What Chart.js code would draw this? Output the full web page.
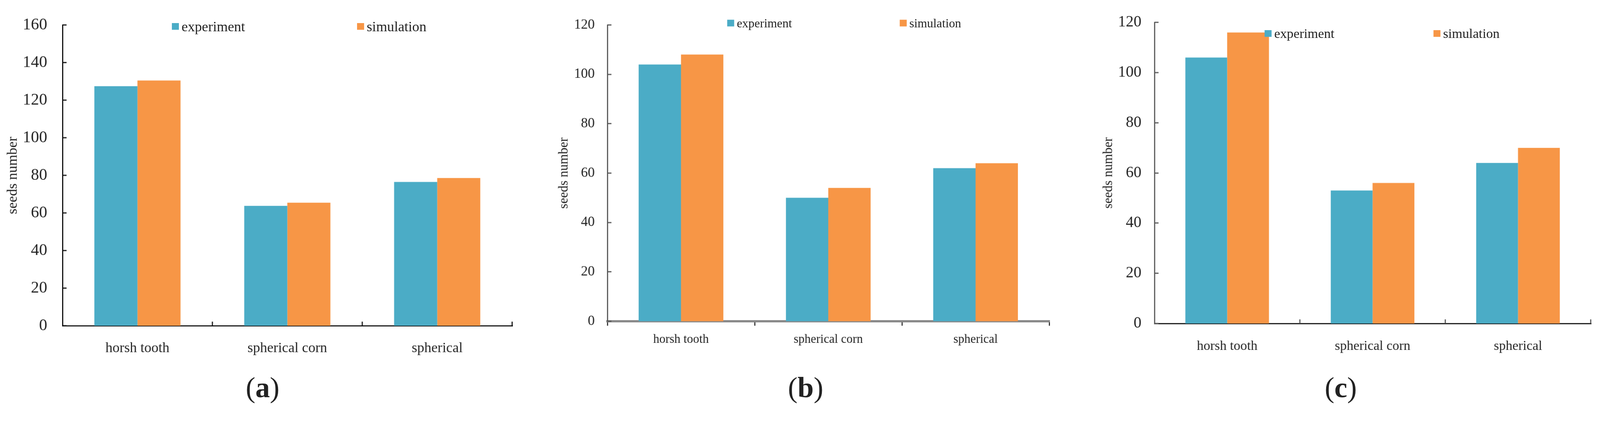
<!DOCTYPE html>
<html>
<head>
<meta charset="utf-8">
<script src="https://cdn.jsdelivr.net/npm/chart.js@4.4.1/dist/chart.umd.min.js"></script>
<style>
html, body { margin: 0; background: #fff; overflow: hidden; }
#stage { position: relative; width: 4302px; height: 1105px; transform-origin: 0 0;
         font-family: 'Liberation Serif', 'Times New Roman', serif; color: #222; }
canvas { position: absolute; top: 0; }
.legend { position: absolute; display: flex; align-items: center; white-space: nowrap; line-height: 1; }
.legend i { display: inline-block; width: 19px; height: 18px; margin-right: 7px; }
.plabel { position: absolute; font-size: 78px; line-height: 1; transform: translateX(-50%); }
</style>
</head>
<body>
<div id="stage">
<canvas id="chart-a"></canvas>
<canvas id="chart-b"></canvas>
<canvas id="chart-c"></canvas>
</div>
<script>
// data
const categories = ['horsh tooth', 'spherical corn', 'spherical'];
const seriesNames = ['experiment', 'simulation'];
const seriesColors = ['#4BACC6', '#F79646'];
const panelNames = ['a', 'b', 'c'];

const experimentA = [127.5, 63.8, 76.5];
const simulationA = [130.5, 65.5, 78.6];
const experimentB = [104, 50, 62];
const simulationB = [108, 54, 64];
const experimentC = [106, 53, 64];
const simulationC = [116, 56, 70];

const yMaxA = 160, yMaxB = 120, yMaxC = 120;
const yStep = 20;
const yTitle = 'seeds number';

// layout of each panel (pixels, in 4302x1105 figure space)
const panels = [
    { name: panelNames[0], left: 0, width: 1400, axisX: 168, right: 1377, top: 46, bottom: 875,
      yMax: yMaxA, series: [experimentA, simulationA],
      tickFont: 44, catFont: 38, titleFont: 38, titleCenter: 35, tickPad: 41, catPad: 26,
      yBorder: '#111', xBorder: '#111', xBorderW: 3, xTicksOut: false,
      legendY: 71, legendX: [462, 960], legendFont: 38, labelX: 706 },
    { name: panelNames[1], left: 1450, width: 1400, axisX: 1633, right: 2821, top: 67, bottom: 863,
      yMax: yMaxB, series: [experimentB, simulationB],
      tickFont: 37, catFont: 33, titleFont: 35, titleCenter: 1517, tickPad: 34, catPad: 18,
      yBorder: '#555', xBorder: '#888', xBorderW: 6, xTicksOut: true,
      legendY: 62, legendX: [1955, 2419], legendFont: 33, labelX: 2166 },
    { name: panelNames[2], left: 2900, width: 1402, axisX: 3104, right: 4277, top: 39, bottom: 869,
      yMax: yMaxC, series: [experimentC, simulationC],
      tickFont: 42, catFont: 36, titleFont: 35, titleCenter: 2981, tickPad: 35, catPad: 28,
      yBorder: '#555', xBorder: '#111', xBorderW: 3, xTicksOut: false,
      legendY: 90, legendX: [3400, 3854], legendFont: 36, labelX: 3605 }
];

const CANVAS_H = 1000;
const X_AXIS_H = 90;

// fit the whole figure into whatever viewport we get
const stage = document.getElementById('stage');
const fit = Math.min(window.innerWidth / 4302, window.innerHeight / 1105);
stage.style.transform = 'scale(' + fit + ')';

// tick marks pointing into the plot (like the Excel original)
const inwardTicks = {
    id: 'inwardTicks',
    afterDraw(chart, args, opts) {
        const ctx = chart.ctx;
        const area = chart.chartArea;
        const y = chart.scales.y;
        const x = chart.scales.x;
        ctx.save();
        ctx.strokeStyle = opts.color;
        ctx.lineWidth = 3;
        ctx.beginPath();
        y.ticks.forEach(t => {
            const py = Math.round(y.getPixelForValue(t.value));
            ctx.moveTo(area.left, py);
            ctx.lineTo(area.left + 11, py);
        });
        if (opts.xInward) {
            const half = (x.getPixelForValue(1) - x.getPixelForValue(0)) / 2;
            for (let i = 0; i < categories.length; i++) {
                const px = Math.round(x.getPixelForValue(i) + half);
                ctx.moveTo(px, area.bottom);
                ctx.lineTo(px, area.bottom - 11);
            }
        }
        ctx.stroke();
        ctx.restore();
    }
};

function makePanel(p) {
    const canvas = document.getElementById('chart-' + p.name);
    canvas.width = p.width;
    canvas.height = CANVAS_H;
    canvas.style.left = p.left + 'px';
    canvas.style.width = p.width + 'px';
    canvas.style.height = CANVAS_H + 'px';

    const yWidth = p.axisX - p.left;
    const titlePad = p.titleCenter - p.left - p.titleFont * 1.2 / 2;

    new Chart(canvas.getContext('2d'), {
        type: 'bar',
        data: {
            labels: categories,
            datasets: seriesNames.map((n, i) => ({
                label: n,
                data: p.series[i],
                backgroundColor: seriesColors[i],
                borderWidth: 0,
                categoryPercentage: 0.575,
                barPercentage: 1.0
            }))
        },
        options: {
            responsive: false,
            animation: false,
            devicePixelRatio: 1,
            layout: {
                padding: { left: 0, top: p.top, right: p.left + p.width - p.right,
                           bottom: CANVAS_H - p.bottom - X_AXIS_H }
            },
            plugins: {
                legend: { display: false },
                tooltip: { enabled: false },
                inwardTicks: { color: p.yBorder, xInward: !p.xTicksOut }
            },
            scales: {
                x: {
                    z: 1,
                    grid: {
                        display: p.xTicksOut,
                        drawOnChartArea: false,
                        drawTicks: true,
                        tickLength: 12,
                        color: '#333',
                        lineWidth: 3
                    },
                    border: { display: true, color: p.xBorder, width: p.xBorderW },
                    ticks: {
                        color: '#222',
                        padding: p.catPad,
                        maxRotation: 0,
                        font: { family: 'Liberation Serif', size: p.catFont }
                    },
                    afterFit: s => { s.height = X_AXIS_H; }
                },
                y: {
                    min: 0,
                    max: p.yMax,
                    z: 1,
                    grid: { display: false, drawTicks: false },
                    border: { display: true, color: p.yBorder, width: 3 },
                    ticks: {
                        stepSize: yStep,
                        color: '#222',
                        padding: p.tickPad,
                        font: { family: 'Liberation Serif', size: p.tickFont }
                    },
                    title: {
                        display: true,
                        text: yTitle,
                        color: '#222',
                        padding: { top: titlePad, bottom: 0 },
                        font: { family: 'Liberation Serif', size: p.titleFont }
                    },
                    afterFit: s => { s.width = yWidth; }
                }
            }
        },
        plugins: [inwardTicks]
    });

    // legend placed inside the plot as in the original
    seriesNames.forEach((n, i) => {
        const el = document.createElement('div');
        el.className = 'legend';
        el.style.left = p.legendX[i] + 'px';
        el.style.top = (p.legendY - p.legendFont / 2) + 'px';
        el.style.height = p.legendFont + 'px';
        el.style.fontSize = p.legendFont + 'px';
        el.innerHTML = '<i style="background:' + seriesColors[i] + '"></i><span>' + n + '</span>';
        stage.appendChild(el);
    });

    const lab = document.createElement('div');
    lab.className = 'plabel';
    lab.style.left = p.labelX + 'px';
    lab.style.top = '1002px';
    lab.innerHTML = '(<b>' + p.name + '</b>)';
    stage.appendChild(lab);
}

panels.forEach(makePanel);
</script>
</body>
</html>
